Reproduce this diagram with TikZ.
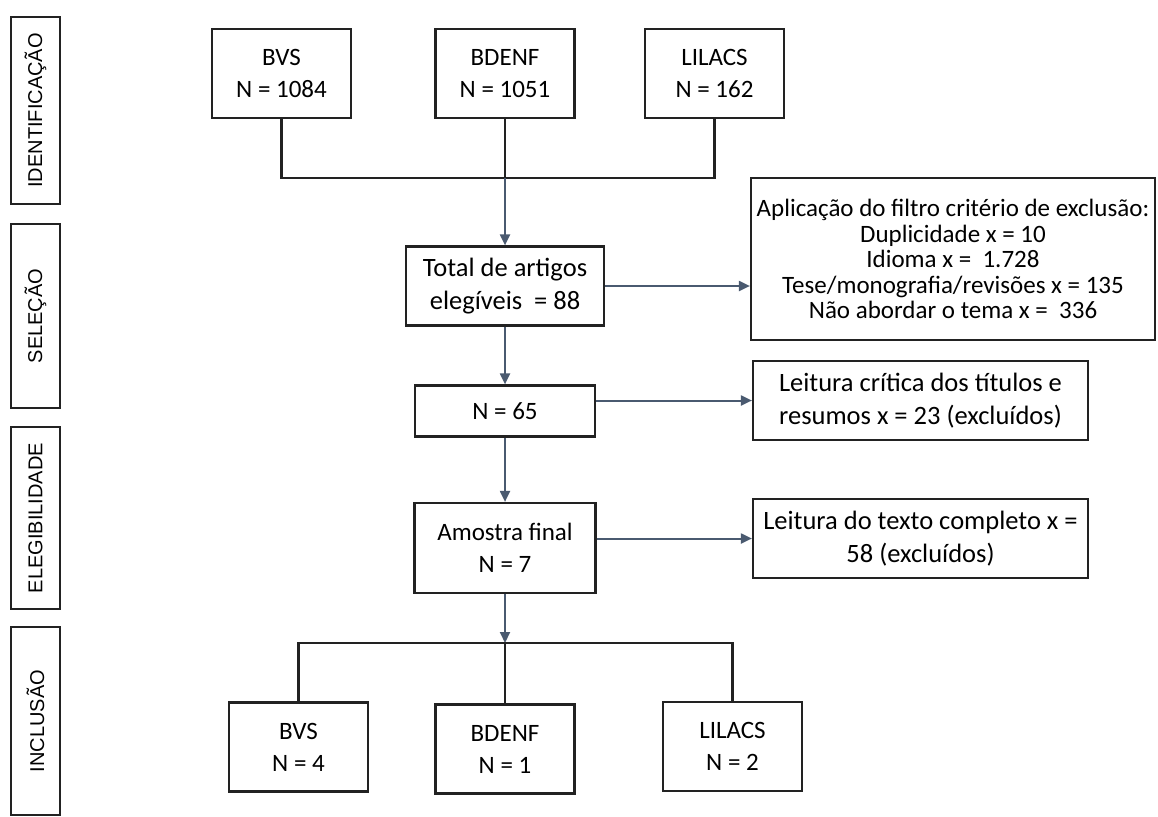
\documentclass[tikz,border=0pt]{standalone}
\usepackage{fontspec}
\setmainfont{Carlito}
\newfontfamily\stagefont{Liberation Sans}
\usetikzlibrary{arrows.meta}
\definecolor{flow}{HTML}{4A5A70}
\definecolor{edge}{HTML}{222222}

\begin{document}
\begin{tikzpicture}[x=1pt, y=-1pt, line width=2.2pt,
    box/.style = {draw=edge, align=center, inner sep=0pt, font=\fontsize{25}{32}\selectfont},
    wide/.style = {box, font=\fontsize{26.5}{33}\selectfont},
    base/.style = {box, minimum width=139pt, minimum height=89pt},
    stage/.style = {draw=edge, rotate=90, inner sep=0pt, minimum height=49pt, font=\stagefont\fontsize{20}{20}\selectfont},
    arr/.style = {draw=flow, line width=2pt, -{Triangle[length=11pt, width=10pt]}},
    tree/.style = {draw=edge}]
    \useasboundingbox (0,0) rectangle (1158,816);

    \node[stage, minimum width=187pt] (ident) at (35.5,110.5) {IDENTIFICAÇÃO};
    \node[stage, minimum width=184pt] (selec) at (35.5,316) {SELEÇÃO};
    \node[stage, minimum width=182pt] (elegi) at (35.5,518) {ELEGIBILIDADE};
    \node[stage, minimum width=188pt] (inclu) at (35.5,721) {INCLUSÃO};

    \node[base] (bvsA) at (281.5,73.5) {BVS\\N = 1084};
    \node[base] (bdenfA) at (505,73.5) {BDENF\\N = 1051};
    \node[base] (lilacsA) at (714.5,73.5) {LILACS\\N = 162};

    \node[wide, minimum width=198pt, minimum height=79pt] (total) at (505,286) {Total de artigos\\elegíveis\ \ = 88};
    \node[box, minimum width=180pt, minimum height=51pt] (n65) at (505,411) {N = 65};
    \node[box, minimum width=181pt, minimum height=90pt] (amostra) at (505,548) {Amostra final\\N = 7};

    \node[box, minimum width=404pt, minimum height=162pt, font=\fontsize{25}{25.5}\selectfont] (filtro) at (953,259)
        {Aplicação do filtro critério de exclusão:\\Duplicidade x = 10\\Idioma x =\ \ 1.728\\Tese/monografia/revisões x = 135\\Não abordar o tema x =\ \ 336};
    \node[wide, minimum width=335pt, minimum height=79pt] (leituraA) at (920.5,400.5) {Leitura crítica dos títulos e\\resumos x = 23 (excluídos)};
    \node[wide, minimum width=335pt, minimum height=79pt] (leituraB) at (920.5,538.5) {Leitura do texto completo x =\\58 (excluídos)};

    \node[base] (bvsB) at (298.5,747) {BVS\\N = 4};
    \node[base] (bdenfB) at (505,749) {BDENF\\N = 1};
    \node[base] (lilacsB) at (732.5,746.5) {LILACS\\N = 2};

    \coordinate (top) at (505,178);
    \coordinate (bot) at (505,643);

    \draw[tree] (bvsA.south) |- (top) -| (lilacsA.south);
    \draw[tree] (bdenfA) -- (top);
    \draw[arr] (top) -- (total);
    \draw[arr] (total.east) -- (total.east -| filtro.west);
    \draw[arr] (total) -- (n65);
    \draw[arr] (n65.east |- leituraA.west) -- (leituraA.west);
    \draw[arr] (n65) -- (amostra);
    \draw[arr] (amostra.east |- leituraB.west) -- (leituraB.west);
    \draw[arr] (amostra) -- (bot);
    \draw[tree] (bvsB.north) |- (bot) -| (lilacsB.north);
    \draw[tree] (bot) -- (bdenfB);
\end{tikzpicture}
\end{document}
